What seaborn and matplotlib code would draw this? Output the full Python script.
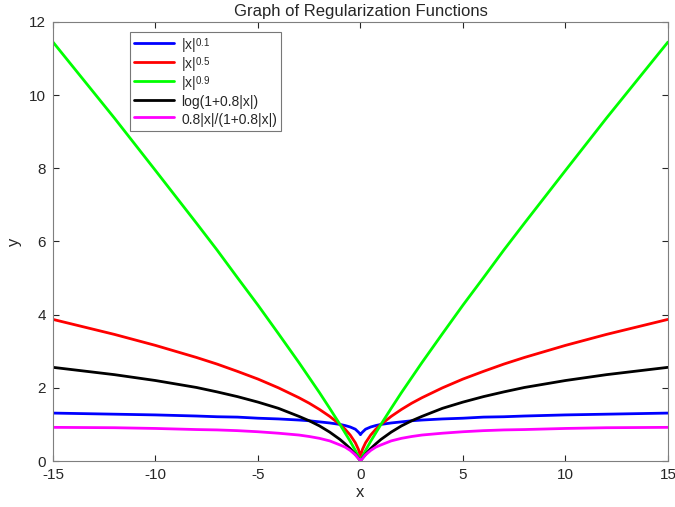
import numpy as np
import pandas as pd
import matplotlib
matplotlib.use("Agg")
import matplotlib.pyplot as plt
import seaborn as sns

try:
    import matplotlib._mathtext as _mt
    _mt.FontConstantsBase.sup1 = 0.4
except Exception:
    pass

# sample positions (|x|), mirrored for negative x
x_abs = [0, 0.05, 0.1, 0.25, 0.5, 0.75, 1, 1.5, 2, 2.5, 3, 4, 5, 6, 7, 8, 10, 12, 15]

y_p01 = [0.72, 0.76, 0.79, 0.87, 0.93, 0.97, 1.00, 1.04, 1.07, 1.10, 1.12, 1.15, 1.17, 1.20, 1.21, 1.23, 1.26, 1.28, 1.31]
y_p05 = [0.05, 0.22, 0.32, 0.50, 0.71, 0.87, 1.00, 1.22, 1.41, 1.58, 1.73, 2.00, 2.24, 2.45, 2.65, 2.83, 3.16, 3.46, 3.87]
y_p09 = [0.03, 0.07, 0.13, 0.29, 0.54, 0.77, 1.00, 1.44, 1.87, 2.28, 2.69, 3.48, 4.26, 5.01, 5.77, 6.50, 7.94, 9.37, 11.45]
y_log = [0.02, 0.04, 0.08, 0.18, 0.34, 0.47, 0.59, 0.79, 0.96, 1.10, 1.22, 1.44, 1.61, 1.76, 1.89, 2.01, 2.20, 2.36, 2.56]
y_rat = [0.02, 0.04, 0.07, 0.17, 0.29, 0.38, 0.44, 0.55, 0.62, 0.67, 0.71, 0.76, 0.80, 0.83, 0.85, 0.86, 0.89, 0.91, 0.92]

labels = [r"|x|$^{0.1}$", r"|x|$^{0.5}$", r"|x|$^{0.9}$", "log(1+0.8|x|)", "0.8|x|/(1+0.8|x|)"]
colors = ["#0000ff", "#ff0000", "#00ff00", "#000000", "#ff00ff"]
series = [y_p01, y_p05, y_p09, y_log, y_rat]

rows = []
for lab, ys in zip(labels, series):
    xs_full = [-v for v in x_abs[::-1]] + x_abs[1:]
    ys_full = ys[::-1] + ys[1:]
    for xv, yv in zip(xs_full, ys_full):
        rows.append({"x": xv, "y": yv, "f": lab})
df = pd.DataFrame(rows)

sns.set_style("ticks")
plt.rcParams["font.family"] = ["Liberation Sans", "DejaVu Sans"]
plt.rcParams["mathtext.fontset"] = "custom"
plt.rcParams["mathtext.rm"] = "Liberation Sans"
plt.rcParams["axes.unicode_minus"] = False

fig = plt.figure(figsize=(6.75, 5.07), dpi=100)
ax = fig.add_axes([0.0785, 0.0907, 0.911, 0.866])

sns.lineplot(data=df, x="x", y="y", hue="f", hue_order=labels, palette=colors,
             sort=False, estimator=None, linewidth=2, ax=ax)

ax.set_xlim(-15, 15)
ax.set_ylim(0, 12)
ax.set_xticks([-15, -10, -5, 0, 5, 10, 15])
ax.set_yticks([0, 2, 4, 6, 8, 10, 12])
ax.tick_params(direction="in", length=4, labelsize=11, colors="#262626", width=0.8,
               pad=5, top=True, right=True)
for s in ax.spines.values():
    s.set_visible(True)
    s.set_color("#7f7f7f")
    s.set_linewidth(0.8)
ax.set_xlabel("x", fontsize=12, labelpad=2)
ax.set_ylabel("y", fontsize=12, labelpad=5)
ax.set_title("Graph of Regularization Functions", fontsize=12, pad=4)

leg = ax.legend(loc="upper left", bbox_to_anchor=(0.125, 0.977), fontsize=10,
                frameon=True, fancybox=False, edgecolor="#555555", borderaxespad=0,
                handlelength=2.9, handleheight=1.45, borderpad=0.3, labelspacing=0.05,
                handletextpad=0.5)
leg.get_frame().set_linewidth(0.8)
for line in leg.get_lines():
    line.set_linewidth(2)

fig.savefig("out.png", dpi=100)
